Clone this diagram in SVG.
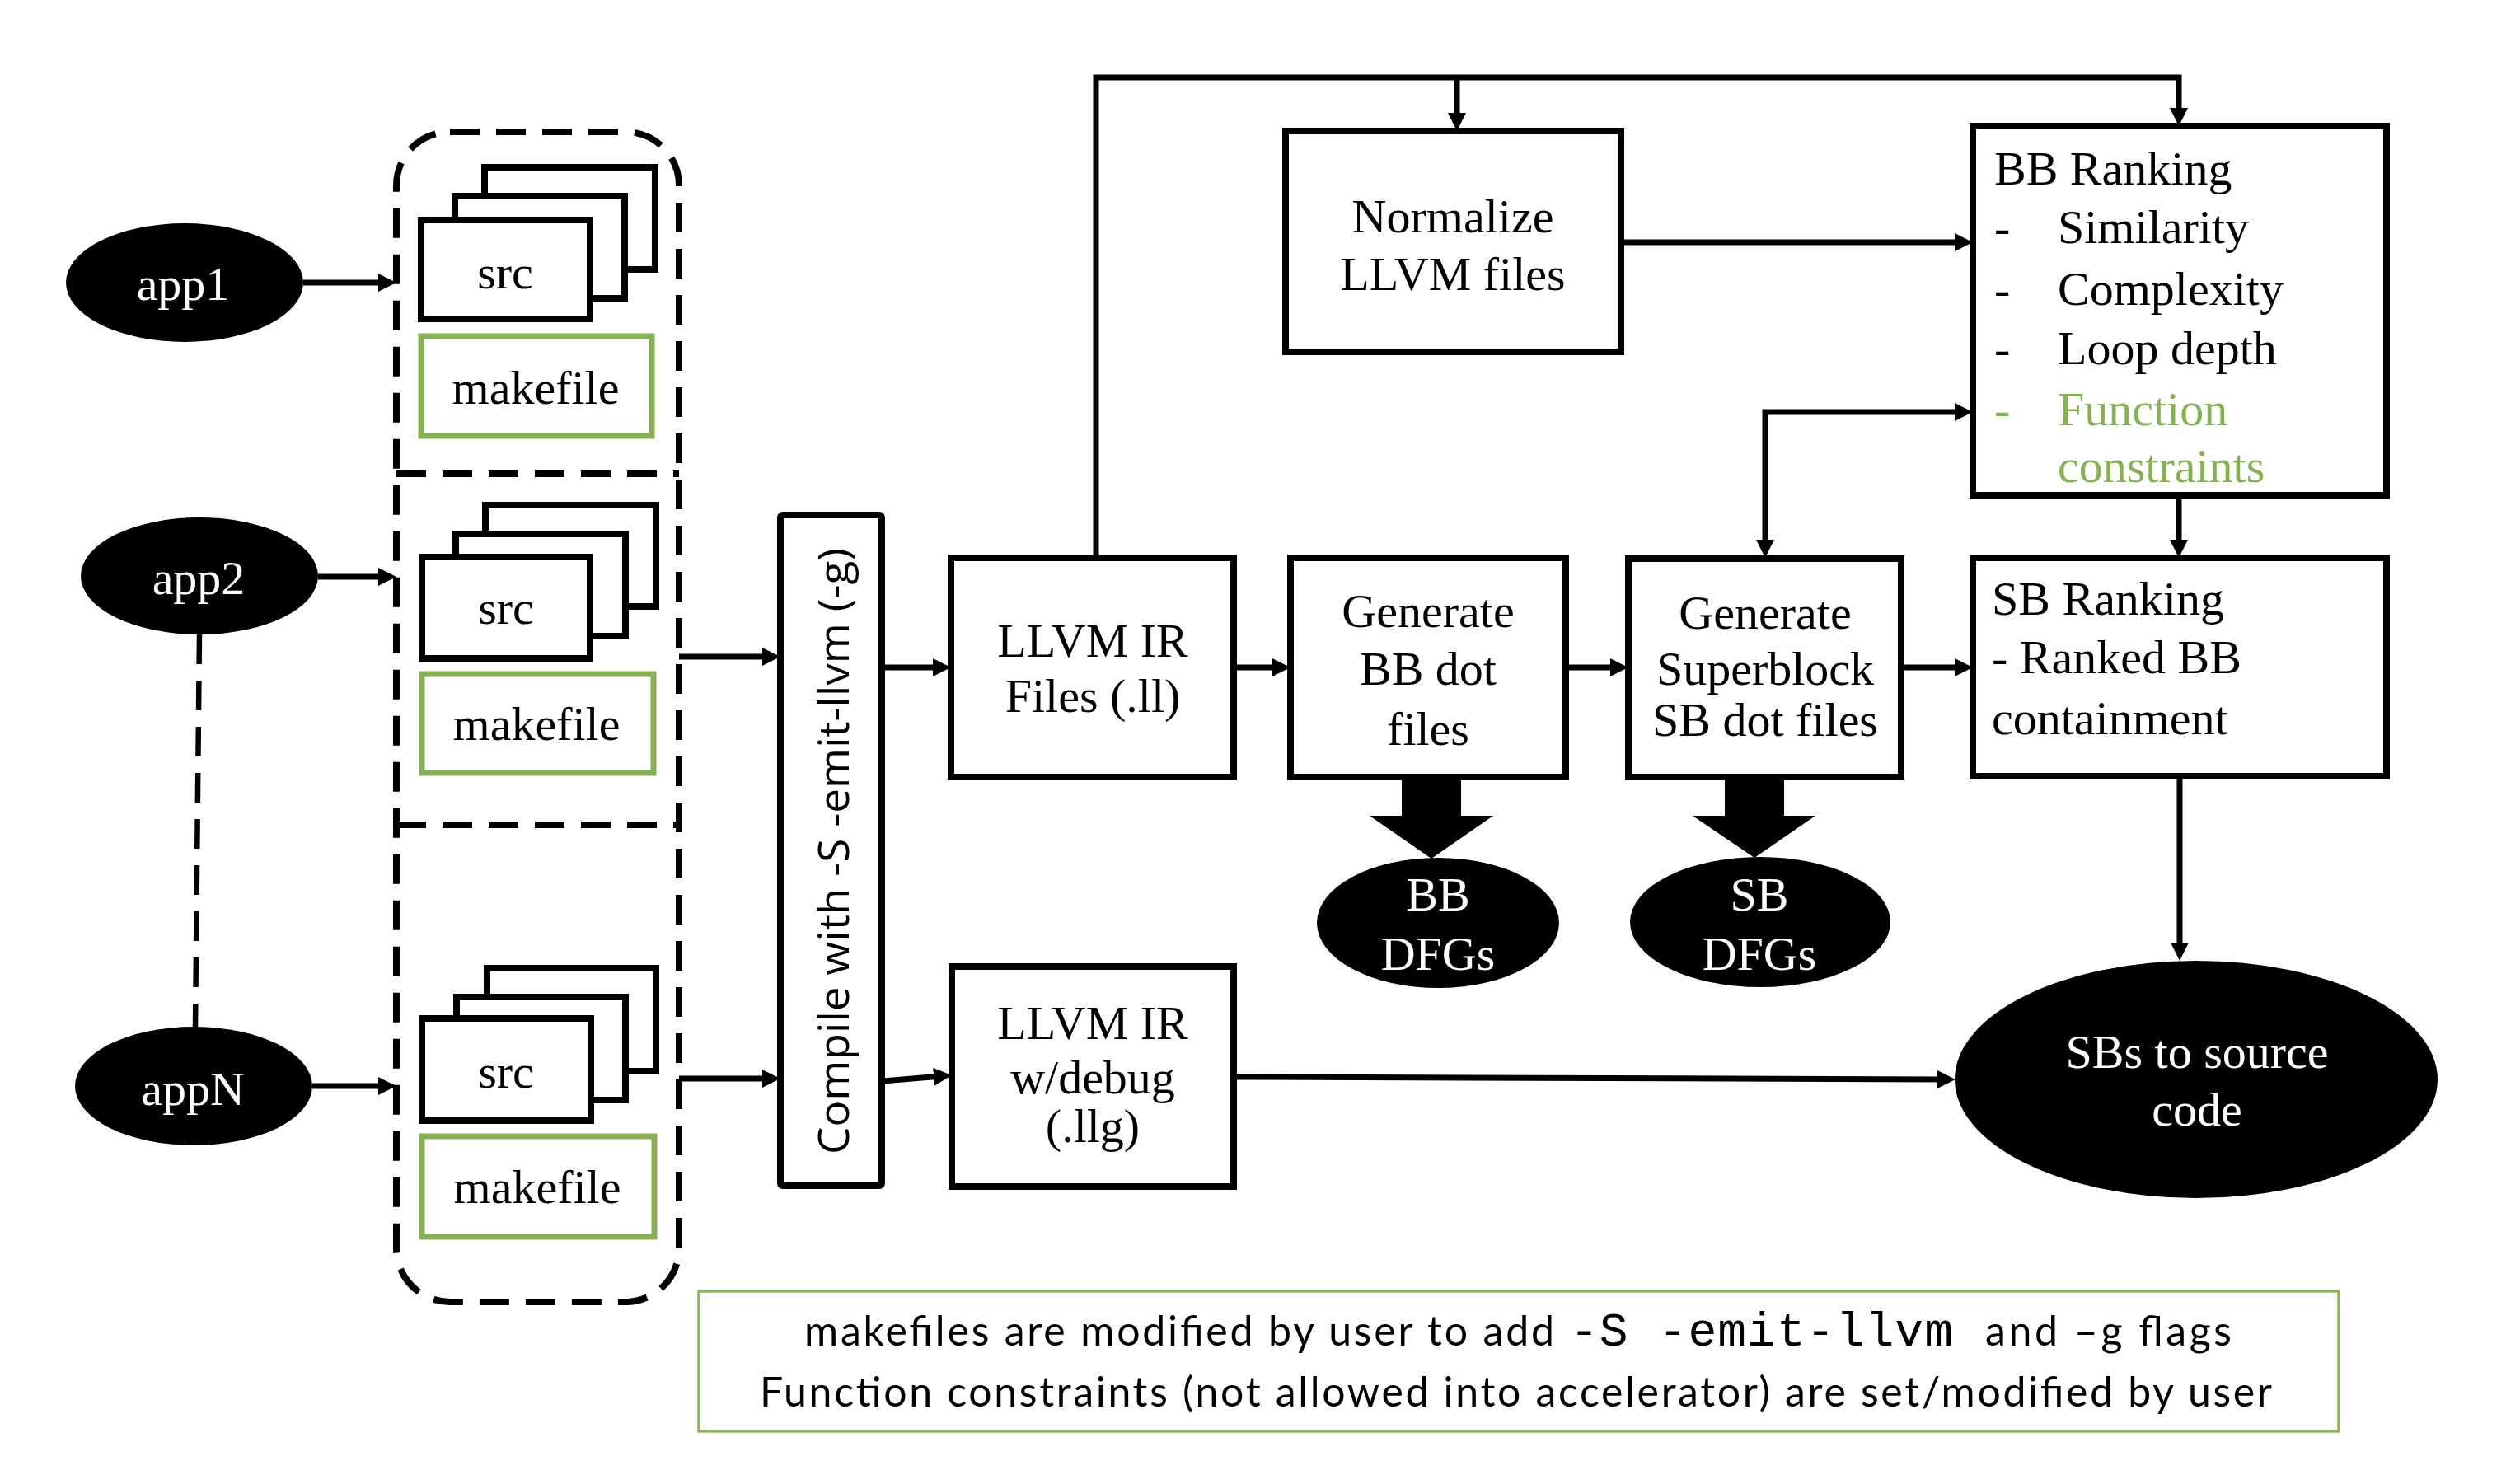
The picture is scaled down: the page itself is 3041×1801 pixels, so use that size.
<svg xmlns="http://www.w3.org/2000/svg" width="3041" height="1801" viewBox="0 0 3041 1801">
<style>
.bg{fill:#ffffff}
.box{fill:#ffffff;stroke:#000;stroke-width:8}
.gbox{fill:#ffffff;stroke:#86AF56;stroke-width:7}
.note{fill:#ffffff;stroke:#8DB560;stroke-width:3.5}
.dash{fill:none;stroke:#000;stroke-width:8;stroke-dasharray:36 20}
.blk{fill:#000}
.con{fill:none;stroke:#000;stroke-width:7;stroke-linejoin:miter;marker-end:url(#ah)}
.serif{font-family:"Liberation Serif","Times New Roman",serif;font-size:58px;fill:#000}
.mid{text-anchor:middle}
.wt{fill:#ffffff}
.gr{fill:#86AF56}
.sans{font-family:"Open Sans","DejaVu Sans",sans-serif;fill:#000}
.lato{font-family:Lato,"Liberation Sans",sans-serif;font-size:50px;fill:#000}
.mono{font-family:"Liberation Mono","Courier New",monospace;font-size:58px;fill:#000}
</style>
<defs>
<marker id="ah" markerUnits="userSpaceOnUse" markerWidth="22" markerHeight="22" viewBox="0 0 22 22" refX="10" refY="11" orient="auto-start-reverse">
<path d="M0,0 L22,11 L0,22 z" fill="#000"/>
</marker>
</defs>
<rect class="bg" x="0" y="0" width="3041" height="1801"/>

<g id="container">
<rect class="dash" x="481" y="160" width="343" height="1420" rx="65" ry="65"/>
<line class="dash" x1="481" y1="575" x2="824" y2="575"/>
<line class="dash" x1="481" y1="1001" x2="824" y2="1001"/>
</g>

<g id="app1">
<ellipse class="blk" cx="224" cy="343" rx="144" ry="72"/>
<text class="serif mid wt" x="222" y="364">app1</text>
</g>
<g id="app2">
<ellipse class="blk" cx="242" cy="699" rx="144" ry="71"/>
<text class="serif mid wt" x="241" y="721">app2</text>
</g>
<g id="appN">
<ellipse class="blk" cx="235" cy="1318" rx="144" ry="72"/>
<text class="serif mid wt" x="234" y="1341">appN</text>
</g>

<g id="src1">
<rect class="box" x="588" y="203" width="207" height="124"/>
<rect class="box" x="552" y="238" width="206" height="124"/>
<rect class="box" x="511" y="267" width="205" height="120"/>
<text class="serif mid" x="613" y="350">src</text>
</g>
<g id="makefile1">
<rect class="gbox" x="511" y="408" width="280" height="121"/>
<text class="serif mid" x="650" y="490">makefile</text>
</g>
<g id="src2">
<rect class="box" x="589" y="613" width="207" height="123"/>
<rect class="box" x="553" y="648" width="206" height="124"/>
<rect class="box" x="512" y="676" width="204" height="123"/>
<text class="serif mid" x="614" y="757">src</text>
</g>
<g id="makefile2">
<rect class="gbox" x="512" y="818" width="281" height="120"/>
<text class="serif mid" x="651" y="898">makefile</text>
</g>
<g id="src3">
<rect class="box" x="591" y="1175" width="205" height="125"/>
<rect class="box" x="554" y="1210" width="205" height="125"/>
<rect class="box" x="512" y="1236" width="205" height="124"/>
<text class="serif mid" x="614" y="1320">src</text>
</g>
<g id="makefile3">
<rect class="gbox" x="512" y="1379" width="282" height="122"/>
<text class="serif mid" x="652" y="1460">makefile</text>
</g>

<g id="compile">
<rect class="box" x="947" y="625" width="123" height="814" rx="3"/>
<text class="sans mid" font-size="52" transform="translate(1030,1033) rotate(-90)" x="0" y="0" textLength="736" lengthAdjust="spacingAndGlyphs">Compile with -S -emit-llvm (-g)</text>
</g>

<g id="llvm-ir">
<rect class="box" x="1154" y="677" width="343" height="266"/>
<text class="serif mid" x="1326" y="797">LLVM IR</text>
<text class="serif mid" x="1326" y="864">Files (.ll)</text>
</g>
<g id="llvm-debug">
<rect class="box" x="1155" y="1173" width="342" height="267"/>
<text class="serif mid" x="1326" y="1261">LLVM IR</text>
<text class="serif mid" x="1326" y="1327">w/debug</text>
<text class="serif mid" x="1326" y="1386">(.llg)</text>
</g>
<g id="normalize">
<rect class="box" x="1560" y="159" width="407" height="268"/>
<text class="serif mid" x="1763" y="282">Normalize</text>
<text class="serif mid" x="1763" y="352">LLVM files</text>
</g>
<g id="gen-bb">
<rect class="box" x="1566" y="677" width="334" height="266"/>
<text class="serif mid" x="1733" y="761">Generate</text>
<text class="serif mid" x="1733" y="831">BB dot</text>
<text class="serif mid" x="1733" y="904">files</text>
</g>
<g id="gen-sb">
<rect class="box" x="1976" y="678" width="331" height="265"/>
<text class="serif mid" font-size="53" x="2142" y="763">Generate</text>
<text class="serif mid" font-size="53" x="2142" y="831">Superblock</text>
<text class="serif mid" font-size="53" x="2142" y="893">SB dot files</text>
</g>
<g id="bb-ranking">
<rect class="box" x="2394" y="153" width="502" height="448"/>
<text class="serif" x="2420" y="224">BB Ranking</text>
<text class="serif" x="2420" y="295">-</text>
<text class="serif" x="2497" y="295">Similarity</text>
<text class="serif" x="2420" y="370">-</text>
<text class="serif" x="2497" y="370">Complexity</text>
<text class="serif" x="2420" y="442">-</text>
<text class="serif" x="2497" y="442">Loop depth</text>
<text class="serif gr" x="2420" y="516">-</text>
<text class="serif gr" x="2497" y="516">Function</text>
<text class="serif gr" x="2497" y="585">constraints</text>
</g>
<g id="sb-ranking">
<rect class="box" x="2394" y="677" width="502" height="265"/>
<text class="serif" x="2417" y="746">SB Ranking</text>
<text class="serif" x="2417" y="817">- Ranked BB</text>
<text class="serif" x="2417" y="891">containment</text>
</g>
<g id="bb-dfgs">
<path class="blk" d="M1701,943 H1773 V990 H1812 L1737,1042 L1662,990 H1701 Z"/>
<ellipse class="blk" cx="1745" cy="1120" rx="147" ry="79"/>
<text class="serif mid wt" x="1745" y="1105">BB</text>
<text class="serif mid wt" x="1745" y="1177">DFGs</text>
</g>
<g id="sb-dfgs">
<path class="blk" d="M2093,943 H2165 V990 H2203 L2129,1041 L2054,990 H2093 Z"/>
<ellipse class="blk" cx="2136" cy="1119" rx="158" ry="79"/>
<text class="serif mid wt" x="2135" y="1105">SB</text>
<text class="serif mid wt" x="2135" y="1177">DFGs</text>
</g>
<g id="sbs-source">
<ellipse class="blk" cx="2665" cy="1310" rx="293" ry="144"/>
<text class="serif mid wt" font-size="59" x="2666" y="1296">SBs to source</text>
<text class="serif mid wt" font-size="59" x="2666" y="1366">code</text>
</g>

<g id="connectors">
<path class="con" d="M368,343 H469"/>
<path class="con" d="M386,700 H469"/>
<path class="con" d="M379,1318 H469"/>
<path class="dash" style="stroke-width:6.5" d="M242,770 L237,1247"/>
<path class="con" d="M824,797 H935"/>
<path class="con" d="M824,1309 H935"/>
<path class="con" d="M1070,810 H1142"/>
<path class="con" d="M1071,1312 L1143,1306"/>
<path class="con" d="M1497,810 H1554"/>
<path class="con" d="M1900,810 H1964"/>
<path class="con" d="M2307,810 H2382"/>
<path class="con" d="M1330,677 V94 H2644 V141"/>
<path class="con" d="M1768,94 V147"/>
<path class="con" d="M1967,294 H2382"/>
<path class="con" style="marker-start:url(#ah)" d="M2142,665 V500 H2382"/>
<path class="con" d="M2644,601 V665"/>
<path class="con" d="M2645,942 V1154"/>
<path class="con" d="M1497,1307 L2361,1310"/>
</g>

<g id="note">
<rect class="note" x="848" y="1567" width="1990" height="170"/>
<text class="lato" x="976" y="1633" textLength="910">makefiles are modified by user to add</text>
<text class="mono" x="1905" y="1633" textLength="465">-S -emit-llvm</text>
<text class="lato" x="2409" y="1633" textLength="299">and –g flags</text>
<text class="lato" x="922" y="1707" textLength="1835">Function constraints (not allowed into accelerator) are set/modified by user</text>
</g>
</svg>
